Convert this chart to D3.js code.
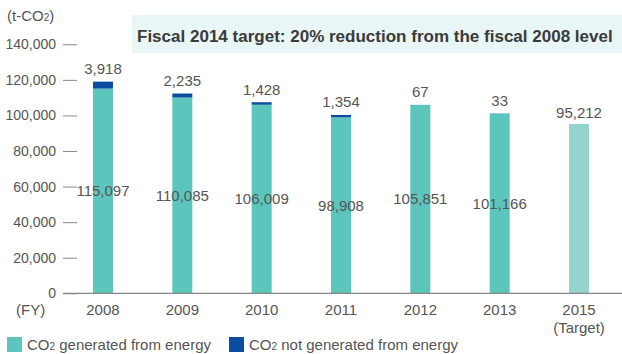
<!DOCTYPE html>
<html>
<head>
<meta charset="utf-8">
<script src="https://cdn.jsdelivr.net/npm/d3@7"></script>
<style>
  html, body { margin: 0; padding: 0; background: #fff; }
  svg { display: block; font-family: "Liberation Sans", Arial, sans-serif; }
</style>
</head>
<body>
<svg id="chart" width="622" height="354"></svg>
<script>
// Fiscal years shown on the x axis (last one is the target year)
const years = ["2008", "2009", "2010", "2011", "2012", "2013", "2015"];
// CO2 generated from energy (t-CO2)
const energyCO2 = [115097, 110085, 106009, 98908, 105851, 101166, null];
// CO2 not generated from energy (t-CO2)
const nonEnergyCO2 = [3918, 2235, 1428, 1354, 67, 33, null];
// Fiscal 2015 target total
const targetCO2 = [null, null, null, null, null, null, 95212];
// Y axis ticks
const yTicks = [0, 20000, 40000, 60000, 80000, 100000, 120000, 140000];

const colEnergy = "#5cc5bc";
const colNonEnergy = "#0b4da1";
const colTarget = "#93d4cf";
const textCol = "#555";

const svg = d3.select("#chart");
const fmt = d3.format(",");

const y = d3.scaleLinear().domain([0, 140000]).range([293.3, 44.3]);
const x = d3.scaleBand().domain(years)
  .range([63.3, 618.7]).paddingInner(0.748).paddingOuter(0.374);

// title box
svg.append("rect").attr("x", 132).attr("y", 15).attr("width", 490).attr("height", 38)
  .attr("fill", "#e9f6f6");
const title = svg.append("text").attr("x", 137).attr("y", 41.5)
  .attr("font-size", 18).attr("font-weight", "bold").attr("fill", "#3a3a3a")
  .text("Fiscal 2014 target: 20% reduction from the fiscal 2008 level");
// shrink the title font so that it fits inside the box
const tw = title.node().getComputedTextLength();
if (tw > 476) title.attr("font-size", 18 * 476 / tw);

// unit label
const unit = svg.append("text").attr("x", 7).attr("y", 21)
  .attr("font-size", 15).attr("fill", textCol);
unit.append("tspan").text("(t-CO");
unit.append("tspan").attr("font-size", 10).text("2");
unit.append("tspan").text(")");

// y axis
const yAxis = d3.axisLeft(y).tickValues(yTicks).tickFormat(fmt)
  .tickSize(14).tickPadding(7);
const gy = svg.append("g").attr("transform", "translate(77,0)").call(yAxis);
gy.select(".domain").remove();
gy.selectAll(".tick line").attr("stroke", "#888");
gy.selectAll(".tick text").attr("font-size", 14).attr("fill", textCol)
  .attr("font-family", "Liberation Sans, Arial, sans-serif");

// bars
const rows = years.map((yr, i) => ({
  yr, energy: energyCO2[i], non: nonEnergyCO2[i], target: targetCO2[i]
}));

const g = svg.append("g");
rows.forEach(d => {
  const bx = x(d.yr), bw = x.bandwidth(), cx = bx + bw / 2;
  if (d.target != null) {
    g.append("rect").attr("x", bx).attr("width", bw)
      .attr("y", y(d.target)).attr("height", y(0) - y(d.target)).attr("fill", colTarget);
    g.append("text").attr("x", cx).attr("y", y(d.target) - 6)
      .attr("text-anchor", "middle").attr("font-size", 15).attr("fill", textCol)
      .text(fmt(d.target));
    return;
  }
  const total = d.energy + d.non;
  g.append("rect").attr("x", bx).attr("width", bw)
    .attr("y", y(d.energy)).attr("height", y(0) - y(d.energy)).attr("fill", colEnergy);
  g.append("rect").attr("x", bx).attr("width", bw)
    .attr("y", y(total)).attr("height", y(d.energy) - y(total)).attr("fill", colNonEnergy);
  g.append("text").attr("x", cx).attr("y", y(total) - 7.5)
    .attr("text-anchor", "middle").attr("font-size", 15).attr("fill", textCol)
    .text(fmt(d.non));
  g.append("text").attr("x", cx).attr("y", y(d.energy / 2)).attr("dy", "0.35em")
    .attr("text-anchor", "middle").attr("font-size", 15).attr("fill", textCol)
    .text(fmt(d.energy));
});

// x axis line
svg.append("line").attr("x1", 63).attr("x2", 622)
  .attr("y1", y(0)).attr("y2", y(0)).attr("stroke", "#888").attr("stroke-width", 1.2);

// x labels
years.forEach(yr => {
  const cx = x(yr) + x.bandwidth() / 2;
  svg.append("text").attr("x", cx).attr("y", 315).attr("text-anchor", "middle")
    .attr("font-size", 15).attr("fill", textCol).text(yr);
});
svg.append("text").attr("x", x("2015") + x.bandwidth() / 2).attr("y", 333)
  .attr("text-anchor", "middle").attr("font-size", 15).attr("fill", textCol).text("(Target)");
svg.append("text").attr("x", 16).attr("y", 315).attr("font-size", 15)
  .attr("fill", textCol).text("(FY)");

// legend
const legend = [
  { label: "generated from energy", color: colEnergy, x: 7 },
  { label: "not generated from energy", color: colNonEnergy, x: 229 }
];
legend.forEach(l => {
  svg.append("rect").attr("x", l.x).attr("y", 337).attr("width", 15).attr("height", 15)
    .attr("fill", l.color);
  const t = svg.append("text").attr("x", l.x + 20).attr("y", 350)
    .attr("font-size", 15).attr("fill", textCol);
  t.append("tspan").text("CO");
  t.append("tspan").attr("font-size", 10).text("2");
  t.append("tspan").text(" " + l.label);
});
</script>
</body>
</html>
